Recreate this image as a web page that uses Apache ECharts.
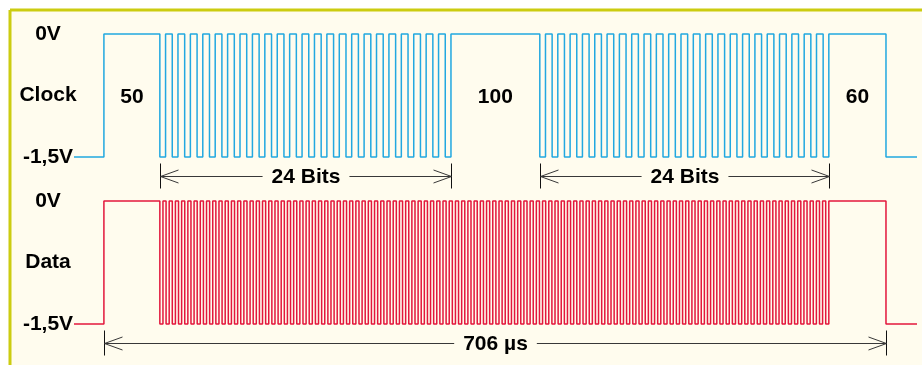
<!DOCTYPE html>
<html>
<head>
<meta charset="utf-8">
<script src="https://cdn.jsdelivr.net/npm/echarts@6/dist/echarts.min.js"></script>
<style>
  html, body { margin: 0; padding: 0; background: #fff; }
  #chart { width: 922px; height: 365px; }
</style>
</head>
<body>
<div id="chart"></div>
<script>
// time axis in µs, levels in volts
const timeRange = [-27, 734]
const frame = [0, 706]
const voltLevels = [0, -1.5]
const voltLabels = ['0V', '-1,5V']
const channels = ['Clock', 'Data']

const clockBursts = [[50.5, 313.3], [393.5, 654.4]]
const clockBits = [24, 24]
const clockLowShare = 0.46
const gapLabels = ['50', '100', '60']

const dataBursts = [[50.5, 654.4]]
const dataPulses = [108]
const dataLowShare = 0.5

const spanLabels = ['24 Bits', '24 Bits', '706 µs']

const FONT = 'bold 21px "Liberation Sans", Arial, sans-serif'
const BG = '#fffcee'

// square wave: high from frame start, each burst = n low pulses with highs between
function buildWave(bursts, counts, lowShare) {
  const hi = voltLevels[0], lo = voltLevels[1]
  const pts = [[timeRange[0], lo], [frame[0], lo], [frame[0], hi]]
  bursts.forEach(([s, e], i) => {
    const n = counts[i]
    const p = (e - s) / (n - 1 + lowShare)
    const w = p * lowShare
    for (let k = 0; k < n; k++) {
      const t = s + k * p
      pts.push([t, hi], [t, lo], [t + w, lo], [t + w, hi])
    }
  })
  pts.push([frame[1], hi], [frame[1], lo], [timeRange[1], lo])
  return pts
}

const mid = (voltLevels[0] + voltLevels[1]) / 2
const gapSpans = [
  [frame[0], clockBursts[0][0]],
  [clockBursts[0][1], clockBursts[1][0]],
  [clockBursts[1][1], frame[1]],
]
const gapData = gapSpans.map(([a, b], i) => [(a + b) / 2, mid, i])

function yLabel(ch) {
  return (v) => {
    if (v === voltLevels[0]) return voltLabels[0]
    if (v === voltLevels[1]) return voltLabels[1]
    return channels[ch]
  }
}

function dimension(params, api) {
  const a = api.coord([api.value(0), voltLevels[1]])
  const b = api.coord([api.value(1), voltLevels[1]])
  const y = Math.round(a[1]) + 19.5
  const x1 = Math.round(a[0]) + 0.5, x2 = Math.round(b[0]) + 0.5
  const stroke = { stroke: '#383838', lineWidth: 1, fill: null }
  return {
    type: 'group',
    children: [
      { type: 'line', shape: { x1, y1: y, x2, y2: y }, style: stroke },
      { type: 'line', shape: { x1, y1: y - 13, x2: x1, y2: y + 12 }, style: { stroke: '#111', lineWidth: 1 } },
      { type: 'line', shape: { x1: x2, y1: y - 13, x2, y2: y + 12 }, style: { stroke: '#111', lineWidth: 1 } },
      { type: 'polyline', shape: { points: [[x1 + 18, y - 6.5], [x1, y], [x1 + 18, y + 6.5]] }, style: stroke },
      { type: 'polyline', shape: { points: [[x2 - 18, y - 6.5], [x2, y], [x2 - 18, y + 6.5]] }, style: stroke },
      {
        type: 'text', x: (x1 + x2) / 2, y: y + 1, z2: 10,
        style: {
          text: spanLabels[api.value(2)], font: FONT, fill: '#000',
          align: 'center', verticalAlign: 'middle',
          backgroundColor: BG, padding: [0, 9],
        },
      },
    ],
  }
}

const axisLabelStyle = {
  fontFamily: '"Liberation Sans", Arial, sans-serif',
  fontWeight: 'bold', fontSize: 21, color: '#000',
  align: 'center', margin: 26, padding: [4, 0, 0, 0],
}

const myChart = echarts.init(document.getElementById('chart'))
myChart.setOption({
  animation: false,
  graphic: [
    { type: 'rect', shape: { x: 10, y: 10, width: 912, height: 355 }, style: { fill: BG } },
    { type: 'line', shape: { x1: 10, y1: 10, x2: 10, y2: 365 }, style: { stroke: '#cccc10', lineWidth: 3 } },
    { type: 'line', shape: { x1: 10, y1: 10, x2: 922, y2: 10 }, style: { stroke: '#cccc10', lineWidth: 3 } },
  ],
  grid: [
    { left: 74, right: 5, top: 34, height: 123, outerBoundsMode: 'none' },
    { left: 74, right: 5, top: 201, height: 123, outerBoundsMode: 'none' },
  ],
  xAxis: [0, 1].map(i => ({
    type: 'value', gridIndex: i, min: timeRange[0], max: timeRange[1], show: false,
  })),
  yAxis: [0, 1].map(i => ({
    type: 'value', gridIndex: i, min: voltLevels[1], max: voltLevels[0], interval: 0.75,
    axisLine: { show: false }, axisTick: { show: false }, splitLine: { show: false },
    axisLabel: { ...axisLabelStyle, formatter: yLabel(i) },
  })),
  series: [
    {
      name: channels[0], type: 'line', xAxisIndex: 0, yAxisIndex: 0,
      data: buildWave(clockBursts, clockBits, clockLowShare),
      showSymbol: false, clip: false,
      lineStyle: { color: '#22a8e0', width: 1.5 },
    },
    {
      name: channels[1], type: 'line', xAxisIndex: 1, yAxisIndex: 1,
      data: buildWave(dataBursts, dataPulses, dataLowShare),
      showSymbol: false, clip: false,
      lineStyle: { color: '#e3173c', width: 1.5 },
    },
    {
      type: 'custom', xAxisIndex: 0, yAxisIndex: 0,
      data: gapData,
      renderItem(params, api) {
        const p = api.coord([api.value(0), api.value(1)])
        return {
          type: 'text', x: p[0], y: p[1] + 2,
          style: { text: gapLabels[api.value(2)], font: FONT, fill: '#000', align: 'center', verticalAlign: 'middle' },
        }
      },
    },
    {
      type: 'custom', xAxisIndex: 0, yAxisIndex: 0,
      data: clockBursts.map(([s, e], i) => [s, e, i]),
      encode: { x: [0, 1] },
      renderItem: dimension,
    },
    {
      type: 'custom', xAxisIndex: 1, yAxisIndex: 1,
      data: [[frame[0], frame[1], 2]],
      encode: { x: [0, 1] },
      renderItem: dimension,
    },
  ],
})
</script>
</body>
</html>
